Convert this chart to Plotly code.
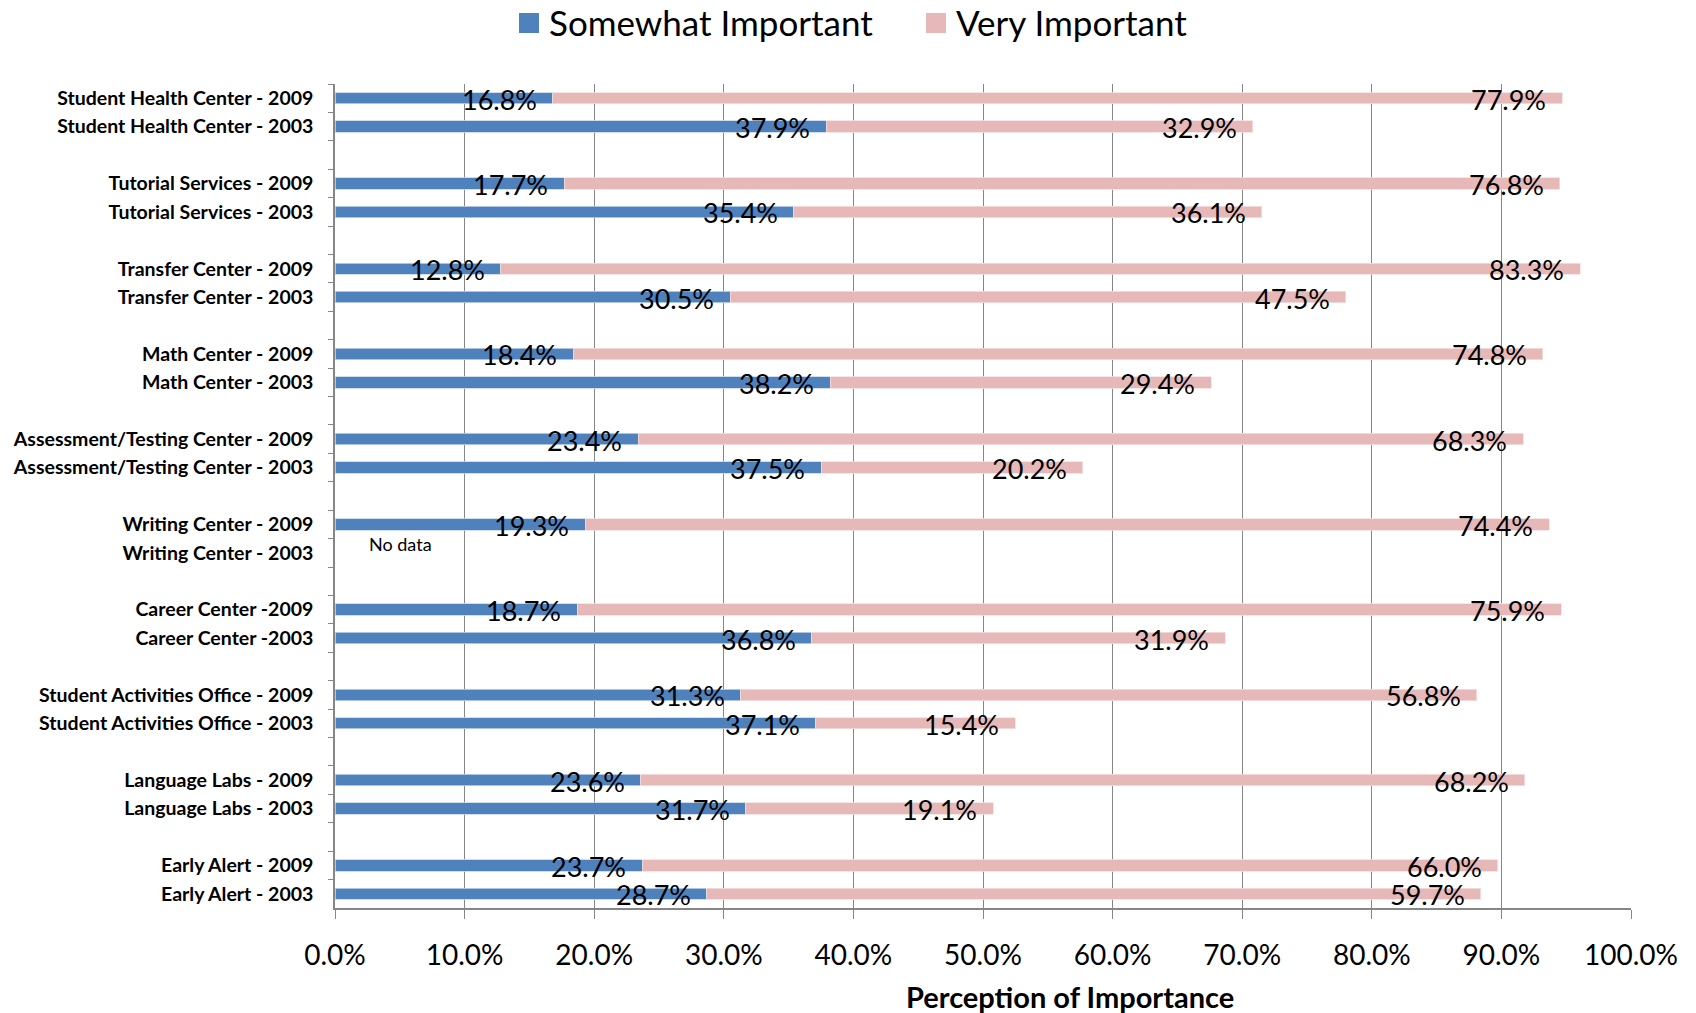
import plotly.graph_objects as go

# Survey services, listed top to bottom
services = [
    "Student Health Center", "Tutorial Services", "Transfer Center", "Math Center",
    "Assessment/Testing Center", "Writing Center", "Career Center",
    "Student Activities Office", "Language Labs", "Early Alert",
]
labels_2009 = [
    "Student Health Center - 2009", "Tutorial Services - 2009", "Transfer Center - 2009",
    "Math Center - 2009", "Assessment/Testing Center - 2009", "Writing Center - 2009",
    "Career Center -2009", "Student Activities Office - 2009", "Language Labs - 2009",
    "Early Alert - 2009",
]
labels_2003 = [
    "Student Health Center - 2003", "Tutorial Services - 2003", "Transfer Center - 2003",
    "Math Center - 2003", "Assessment/Testing Center - 2003", "Writing Center - 2003",
    "Career Center -2003", "Student Activities Office - 2003", "Language Labs - 2003",
    "Early Alert - 2003",
]

# Percent of respondents
somewhat_2009 = [16.8, 17.7, 12.8, 18.4, 23.4, 19.3, 18.7, 31.3, 23.6, 23.7]
very_2009 = [77.9, 76.8, 83.3, 74.8, 68.3, 74.4, 75.9, 56.8, 68.2, 66.0]
somewhat_2003 = [37.9, 35.4, 30.5, 38.2, 37.5, None, 36.8, 37.1, 31.7, 28.7]
very_2003 = [32.9, 36.1, 47.5, 29.4, 20.2, None, 31.9, 15.4, 19.1, 59.7]

x_ticks = [0, 10, 20, 30, 40, 50, 60, 70, 80, 90, 100]

BLUE = "#4F81BD"
PINK = "#E6B9B8"
GRID = "#868686"
FONT = "Lato"

# Category slots: 2009 row, 2003 row, then an empty spacer row between groups
slots = []
for i in range(len(services)):
    slots.append(labels_2009[i])
    slots.append(labels_2003[i])
    if i < len(services) - 1:
        slots.append(" " * (i + 1))

y_rows = labels_2009 + labels_2003
somewhat = somewhat_2009 + somewhat_2003
very = very_2009 + very_2003

fig = go.Figure()

# invisible trace so every slot (including spacers) is placed on the axis
fig.add_trace(go.Scatter(
    x=[0] * len(slots), y=slots, mode="markers",
    marker=dict(opacity=0, size=1), showlegend=False, hoverinfo="skip",
))

fig.add_trace(go.Bar(
    x=somewhat, y=y_rows, orientation="h", name="Somewhat Important",
    marker=dict(color=BLUE, line=dict(color="#C6D6EA", width=0.8)),
    showlegend=False,
))
fig.add_trace(go.Bar(
    x=very, y=y_rows, orientation="h", name="Very Important",
    marker=dict(color=PINK, line=dict(color="#F4E0DF", width=0.8)),
    showlegend=False,
))

# value labels at the inner end of each segment
annotations = []
for y, s, v in zip(y_rows, somewhat, very):
    if s is None:
        continue
    for end, val in ((s, s), (s + v, v)):
        annotations.append(dict(
            x=end, y=y, xref="x", yref="y", text=f"{val:.1f}%",
            showarrow=False, xanchor="right", yanchor="middle",
            xshift=-14, yshift=-1,
            font=dict(family=FONT, size=27, color="black"),
        ))

annotations.append(dict(
    x=0, y="Writing Center - 2003", xref="x", yref="y", text="No data",
    showarrow=False, xanchor="left", yanchor="middle", xshift=32, yshift=9,
    font=dict(family=FONT, size=18, color="black"),
))

# axis title
annotations.append(dict(
    x=0.567, y=-(996 - 908) / 824, xref="paper", yref="paper",
    text="<b>Perception of Importance</b>",
    showarrow=False, xanchor="center", yanchor="middle",
    font=dict(family=FONT, size=29, color="black"),
))

# legend drawn as swatches plus text
legend_items = [("Somewhat Important", BLUE, 519), ("Very Important", PINK, 926)]
shapes = []
for name, color, px in legend_items:
    shapes.append(dict(
        type="rect", xref="paper", yref="paper",
        x0=(px - 335) / 1296, x1=(px + 20 - 335) / 1296,
        y0=1 + (84 - 33) / 824, y1=1 + (84 - 13) / 824,
        fillcolor=color, line=dict(width=0),
    ))
    annotations.append(dict(
        x=(px + 28 - 335) / 1296, y=1 + (84 - 22) / 824, xref="paper", yref="paper",
        text=name, showarrow=False, xanchor="left", yanchor="middle",
        font=dict(family=FONT, size=35, color="black"),
    ))

fig.update_layout(
    width=1696, height=1013,
    margin=dict(l=335, r=65, t=84, b=105),
    barmode="stack", bargap=0.6,
    plot_bgcolor="white", paper_bgcolor="white",
    font=dict(family=FONT, color="black"),
    annotations=annotations, shapes=shapes,
    showlegend=False,
)

fig.update_xaxes(
    range=[0, 100], tickvals=x_ticks, ticktext=[f"{t:.1f}%" for t in x_ticks],
    showgrid=True, gridcolor=GRID, gridwidth=1.3,
    showline=True, linecolor=GRID, linewidth=1.5,
    ticks="outside", ticklen=9, tickcolor=GRID, tickwidth=1.3,
    tickfont=dict(family=FONT, size=28, color="black"),
    ticklabelstandoff=13, zeroline=False,
)

fig.update_yaxes(
    type="category", categoryorder="array", categoryarray=slots,
    range=[len(slots) - 0.5, -0.5],
    tickson="boundaries", ticks="outside", ticklen=5, tickcolor=GRID, tickwidth=1.3,
    showline=True, linecolor=GRID, linewidth=1.5, showgrid=False,
    tickfont=dict(family=FONT, size=19.5, color="black", weight="bold"),
    ticklabelstandoff=16,
)

fig.write_html("out.html")
